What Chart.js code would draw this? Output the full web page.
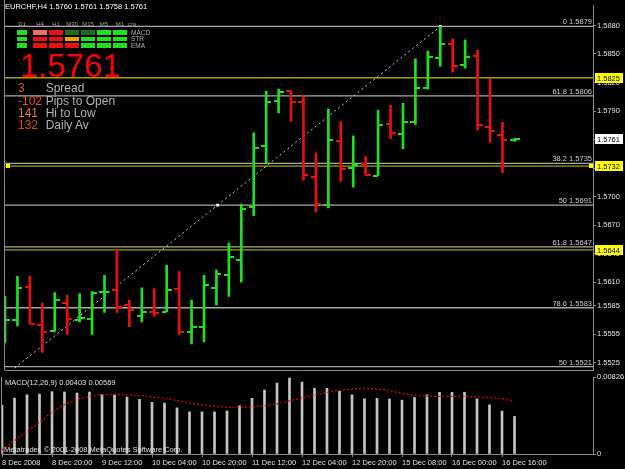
<!DOCTYPE html>
<html>
<head>
<meta charset="utf-8">
<script src="https://cdn.jsdelivr.net/npm/chart.js@4.4.1/dist/chart.umd.min.js"></script>
<style>
  body { margin: 0; background: #000; width: 625px; height: 469px; overflow: hidden; position: relative; font-family: "Liberation Sans", Arial, sans-serif; }
  canvas { position: absolute; left: 0; }
  #main { top: 0; }
  #macd { top: 370px; }
  .txt { position: absolute; white-space: nowrap; }
</style>
</head>
<body>
<canvas id="main" width="625" height="376"></canvas>
<canvas id="macd" width="625" height="99"></canvas>
<div id="overlay"></div>
<script>
// H4 bars, 8 Dec 2008 04:00 .. 16 Dec 2008 20:00
const opens  = [1.5562,1.5570,1.5605,1.5565,1.5559,1.5588,1.5570,1.5571,1.5600,1.5602,1.5586,1.5574,1.5579,1.5579,1.5603,1.5557,1.5563,1.5604,1.5617,1.5633,1.5689,1.5753,1.5801,1.5811,1.5800,1.5721,1.5691,1.5758,1.5730,1.5734,1.5722,1.5776,1.5766,1.5778,1.5814,1.5846,1.5861,1.5838,1.5848,1.5773,1.5765,1.5760];
const highs  = [1.5595,1.5616,1.5616,1.5588,1.5599,1.5596,1.5598,1.5600,1.5617,1.5644,1.5591,1.5604,1.5603,1.5628,1.5621,1.5591,1.5617,1.5623,1.5651,1.5692,1.5767,1.5811,1.5813,1.5811,1.5807,1.5746,1.5792,1.5779,1.5764,1.5742,1.5791,1.5796,1.5798,1.5845,1.5853,1.5879,1.5866,1.5865,1.5854,1.5824,1.5778,1.5761];
const lows   = [1.5546,1.5564,1.5566,1.5536,1.5558,1.5555,1.5568,1.5555,1.5578,1.5578,1.5563,1.5568,1.5574,1.5579,1.5555,1.5545,1.5547,1.5586,1.5595,1.5610,1.5680,1.5735,1.5788,1.5779,1.5717,1.5684,1.5688,1.5716,1.5710,1.5722,1.5722,1.5761,1.5750,1.5776,1.5813,1.5837,1.5831,1.5835,1.5770,1.5757,1.5725,1.5758];
const closes = [1.5570,1.5604,1.5566,1.5558,1.5591,1.5571,1.5572,1.5599,1.5600,1.5584,1.5581,1.5579,1.5578,1.5602,1.5558,1.5563,1.5607,1.5618,1.5636,1.5687,1.5751,1.5799,1.5810,1.5800,1.5723,1.5692,1.5759,1.5729,1.5733,1.5723,1.5775,1.5767,1.5778,1.5814,1.5847,1.5861,1.5837,1.5847,1.5775,1.5769,1.5760,1.5761];

const macdHist   = [0.00521,0.00600,0.00635,0.00643,0.00668,0.00665,0.00654,0.00665,0.00640,0.00635,0.00611,0.00586,0.00554,0.00546,0.00495,0.00452,0.00452,0.00452,0.00463,0.00517,0.00597,0.00686,0.00761,0.00815,0.00772,0.00704,0.00704,0.00672,0.00635,0.00592,0.00597,0.00589,0.00578,0.00607,0.00635,0.00661,0.00661,0.00661,0.00592,0.00528,0.00460,0.00403];
const macdSignal = [0.00043,0.00144,0.00241,0.00341,0.00449,0.00532,0.00586,0.00618,0.00635,0.00640,0.00635,0.00629,0.00614,0.00597,0.00575,0.00549,0.00528,0.00510,0.00500,0.00500,0.00506,0.00517,0.00538,0.00570,0.00603,0.00632,0.00661,0.00683,0.00700,0.00704,0.00700,0.00679,0.00650,0.00632,0.00621,0.00618,0.00618,0.00618,0.00614,0.00607,0.00592,0.00569];
const macdTop = 0.00826;

const timeTickIdx = [0,4,8,12,16,20,24,28,32,36,40];
const timeLabels  = ['8 Dec 2008','8 Dec 20:00','9 Dec 12:00','10 Dec 04:00','10 Dec 20:00','11 Dec 12:00','12 Dec 04:00','12 Dec 20:00','15 Dec 08:00','16 Dec 00:00','16 Dec 16:00'];
const priceTicks  = [1.5880,1.5850,1.5820,1.5790,1.5760,1.5730,1.5700,1.5670,1.5640,1.5610,1.5585,1.5555,1.5525];

const fibLevels = [1.5879,1.5806,1.5735,1.5691,1.5647,1.5583,1.5521];
const fibNames  = ['0','61.8','38.2','50','61.8','78.6','50'];
const levelLines = [1.5825,1.5732,1.5644];
const selectedLevel = 1.5732;
const trendX = [-0.8, 35];
const trendY = [1.5503, 1.5879];
const trendMarks = [[17.1, 1.5691], [35, 1.5879]];

// info panel
const tfNames = ['D1','H4','H1','M30','M15','M5','M1'];
const sigRows = ['MACD','STR','EMA'];
const sigMacd = ['up','weakDown','down','weakUp','weakUp','up','up'];
const sigStr  = ['up','down','down','flat','up','up','up'];
const sigEma  = ['up','down','down','down','up','up','up'];
const statVals  = ['3','-102','141','132'];
const statNames = ['Spread','Pips to Open','Hi to Low','Daily Av'];

const UP = '#1fe01f', DOWN = '#e81010', FRAME = '#8a8a8a', TXT = '#e0e0e0';
const FONT = '"Liberation Sans", Arial, sans-serif';
const X_MAX = 47.28;
const last = closes.length - 1;
const idx = opens.map((_, i) => i);
const isUp = i => closes[i] >= opens[i];

function tickImg(color, side) {
    const c = document.createElement('canvas');
    c.width = 10; c.height = 2;
    const g = c.getContext('2d');
    g.fillStyle = color;
    g.fillRect(side === 'left' ? 0 : 5, 0, 5, 2);
    return c;
}
const upL = tickImg(UP, 'left'), upR = tickImg(UP, 'right');
const dnL = tickImg(DOWN, 'left'), dnR = tickImg(DOWN, 'right');

const hLine = (lv, color) => ({
    type: 'line', data: [{ x: 0, y: lv }, { x: X_MAX, y: lv }],
    borderColor: color, borderWidth: 1.3, pointRadius: 0
});

const mainDecor = {
    id: 'mainDecor',
    afterDraw(chart) {
        const { ctx, chartArea: a, scales: { y } } = chart;
        ctx.save();
        ctx.strokeStyle = FRAME; ctx.lineWidth = 1;
        ctx.beginPath(); ctx.moveTo(a.left - 0.5, 0); ctx.lineTo(a.left - 0.5, a.bottom); ctx.stroke();

        ctx.font = '7.5px ' + FONT;
        ctx.fillStyle = '#cfcfcf'; ctx.textAlign = 'right'; ctx.textBaseline = 'alphabetic';
        fibLevels.forEach((lv, i) => ctx.fillText(fibNames[i] + ' ' + lv.toFixed(4), a.right - 1, y.getPixelForValue(lv) - 2));

        const box = (lv, bg) => {
            const py = Math.round(y.getPixelForValue(lv));
            ctx.fillStyle = bg; ctx.fillRect(a.right + 2, py - 5, 28, 10);
            ctx.fillStyle = '#000'; ctx.textAlign = 'left'; ctx.textBaseline = 'middle';
            ctx.fillText(lv.toFixed(4), a.right + 4, py + 0.5);
        };
        levelLines.forEach(lv => box(lv, '#ffff00'));
        box(closes[last], '#ffffff');

        const sy = Math.round(y.getPixelForValue(selectedLevel));
        ctx.fillStyle = '#ffff00';
        ctx.fillRect(a.left + 1, sy - 2, 4, 4);
        ctx.fillRect(a.right - 4, sy - 2, 4, 4);
        ctx.restore();
    }
};

new Chart(document.getElementById('main'), {
    data: {
        datasets: [
            {
                type: 'bar',
                data: idx.map(i => ({ x: i, y: [lows[i], highs[i]] })),
                backgroundColor: c => isUp(c.dataIndex) ? UP : DOWN,
                barThickness: 2, borderWidth: 0
            },
            {
                type: 'scatter',
                data: idx.map(i => ({ x: i, y: opens[i] })),
                pointStyle: c => isUp(c.dataIndex) ? upL : dnL, pointRadius: 3
            },
            {
                type: 'scatter',
                data: idx.map(i => ({ x: i, y: closes[i] })),
                pointStyle: c => isUp(c.dataIndex) ? upR : dnR, pointRadius: 3
            },
            {
                type: 'scatter',
                data: trendMarks.map(p => ({ x: p[0], y: p[1] })),
                pointStyle: 'rect', pointRadius: 2, backgroundColor: '#fff', borderColor: '#fff', borderWidth: 0
            },
            {
                type: 'line',
                data: trendX.map((x, i) => ({ x, y: trendY[i] })),
                borderColor: '#c8c8c8', borderWidth: 1, borderDash: [2, 3], pointRadius: 0
            },
            ...levelLines.map(lv => hLine(lv, '#a3a300')),
            ...fibLevels.map(lv => hLine(lv, '#a8a8a8'))
        ]
    },
    options: {
        responsive: false,
        animation: false,
        events: [],
        layout: { padding: { top: 1, left: 2, right: 0, bottom: 0 } },
        plugins: { legend: { display: false }, tooltip: { enabled: false } },
        scales: {
            x: {
                type: 'linear', min: 0, max: X_MAX, offset: false,
                ticks: { display: false },
                grid: { display: false, offset: false },
                border: { display: true, color: FRAME },
                afterFit: s => { s.height = 1; }
            },
            y: {
                position: 'right', min: 1.5517, max: 1.5901,
                afterBuildTicks: s => { s.ticks = priceTicks.map(v => ({ value: v })); },
                ticks: { callback: v => v.toFixed(4), color: TXT, font: { family: FONT, size: 7.5 }, padding: 1 },
                grid: { drawOnChartArea: false, drawTicks: true, tickLength: 3, color: FRAME },
                border: { display: true, color: FRAME },
                afterFit: s => { s.width = 32; }
            }
        }
    },
    plugins: [mainDecor]
});

const macdDecor = {
    id: 'macdDecor',
    afterDraw(chart) {
        const { ctx, chartArea: a } = chart;
        ctx.save();
        ctx.strokeStyle = FRAME; ctx.lineWidth = 1;
        ctx.beginPath(); ctx.moveTo(a.left - 0.5, a.top); ctx.lineTo(a.left - 0.5, a.bottom); ctx.stroke();
        ctx.restore();
    }
};

new Chart(document.getElementById('macd'), {
    data: {
        datasets: [
            {
                type: 'line',
                data: idx.map(i => ({ x: i, y: macdSignal[i] })),
                borderColor: '#e00000', borderWidth: 1.3, borderDash: [2, 2], pointRadius: 0
            },
            {
                type: 'bar',
                data: idx.map(i => ({ x: i, y: macdHist[i] })),
                backgroundColor: '#c4c4c4', barThickness: 2, borderWidth: 0
            }
        ]
    },
    options: {
        responsive: false,
        animation: false,
        events: [],
        layout: { padding: { top: 7, left: 2, right: 0, bottom: 0 } },
        plugins: { legend: { display: false }, tooltip: { enabled: false } },
        scales: {
            x: {
                type: 'linear', min: 0, max: X_MAX, offset: false,
                afterBuildTicks: s => { s.ticks = timeTickIdx.map(v => ({ value: v })); },
                ticks: {
                    callback: v => timeLabels[timeTickIdx.indexOf(v)],
                    align: 'start', autoSkip: false, maxRotation: 0,
                    color: TXT, font: { family: FONT, size: 7.5 }, padding: 1
                },
                grid: { drawOnChartArea: false, drawTicks: true, tickLength: 3, color: FRAME, offset: false },
                border: { display: true, color: FRAME },
                afterFit: s => { s.height = 15; }
            },
            y: {
                position: 'right', min: 0, max: macdTop,
                afterBuildTicks: s => { s.ticks = [macdTop, 0].map(v => ({ value: v })); },
                ticks: { callback: v => v === 0 ? '0' : v.toFixed(5), color: TXT, font: { family: FONT, size: 7.5 }, padding: 1 },
                grid: { drawOnChartArea: false, drawTicks: true, tickLength: 3, color: FRAME },
                border: { display: true, color: FRAME },
                afterFit: s => { s.width = 32; }
            }
        }
    },
    plugins: [macdDecor]
});

// text overlay (header, signal grid, price and stats)
const ov = document.getElementById('overlay');
function addText(str, left, top, size, color, extra) {
    const d = document.createElement('div');
    d.className = 'txt';
    d.textContent = str;
    Object.assign(d.style, { left: left + 'px', top: top + 'px', fontSize: size + 'px', lineHeight: size + 'px', color }, extra || {});
    ov.appendChild(d);
    return d;
}

addText('EURCHF,H4  ' + [opens[last], highs[last], lows[last], closes[last]].map(v => v.toFixed(4)).join(' '), 5, 3, 7.5, '#fff');

const sigColors = { up: '#1fe01f', down: '#e81010', weakUp: '#1d6e1d', weakDown: '#f07060', flat: '#f0a000' };
const colLeft = i => i === 0 ? 17 : 33 + (i - 1) * 16;
const colWidth = i => i === 0 ? 10 : 14;
tfNames.forEach((n, i) => {
    addText(n, colLeft(i), 21, 6, '#a0a0a0', { width: colWidth(i) + 'px', textAlign: 'center' });
});
addText('c/a', 128, 21, 6, '#a0a0a0');
[sigMacd, sigStr, sigEma].forEach((row, r) => {
    const top = 30 + r * 6.65;
    row.forEach((s, i) => {
        const b = document.createElement('div');
        Object.assign(b.style, { position: 'absolute', left: colLeft(i) + 'px', top: top + 'px', width: colWidth(i) + 'px', height: '4.5px', background: sigColors[s] });
        ov.appendChild(b);
    });
    addText(sigRows[r], 131, top - 0.5, 6.5, '#b0b0b0');
});

addText(closes[last].toFixed(4), 20, 48.7, 33, '#ff0000');

const statColors = ['#c86420', '#ff4a10', '#e8801c', '#e04818'];
statVals.forEach((v, r) => {
    const top = 82.3 + r * 12.2;
    addText(v, 18, top, 12, statColors[r]);
    addText(statNames[r], 45.7, top, 12, '#b4b4b4');
});

addText('MACD(12,26,9) ' + macdHist[last].toFixed(5) + ' ' + macdSignal[last].toFixed(5), 5, 379, 7.5, TXT);
addText('Metatrader, \u00a9 2001-2008 MetaQuotes Software Corp.', 4, 446, 7.5, TXT);
</script>
</body>
</html>
